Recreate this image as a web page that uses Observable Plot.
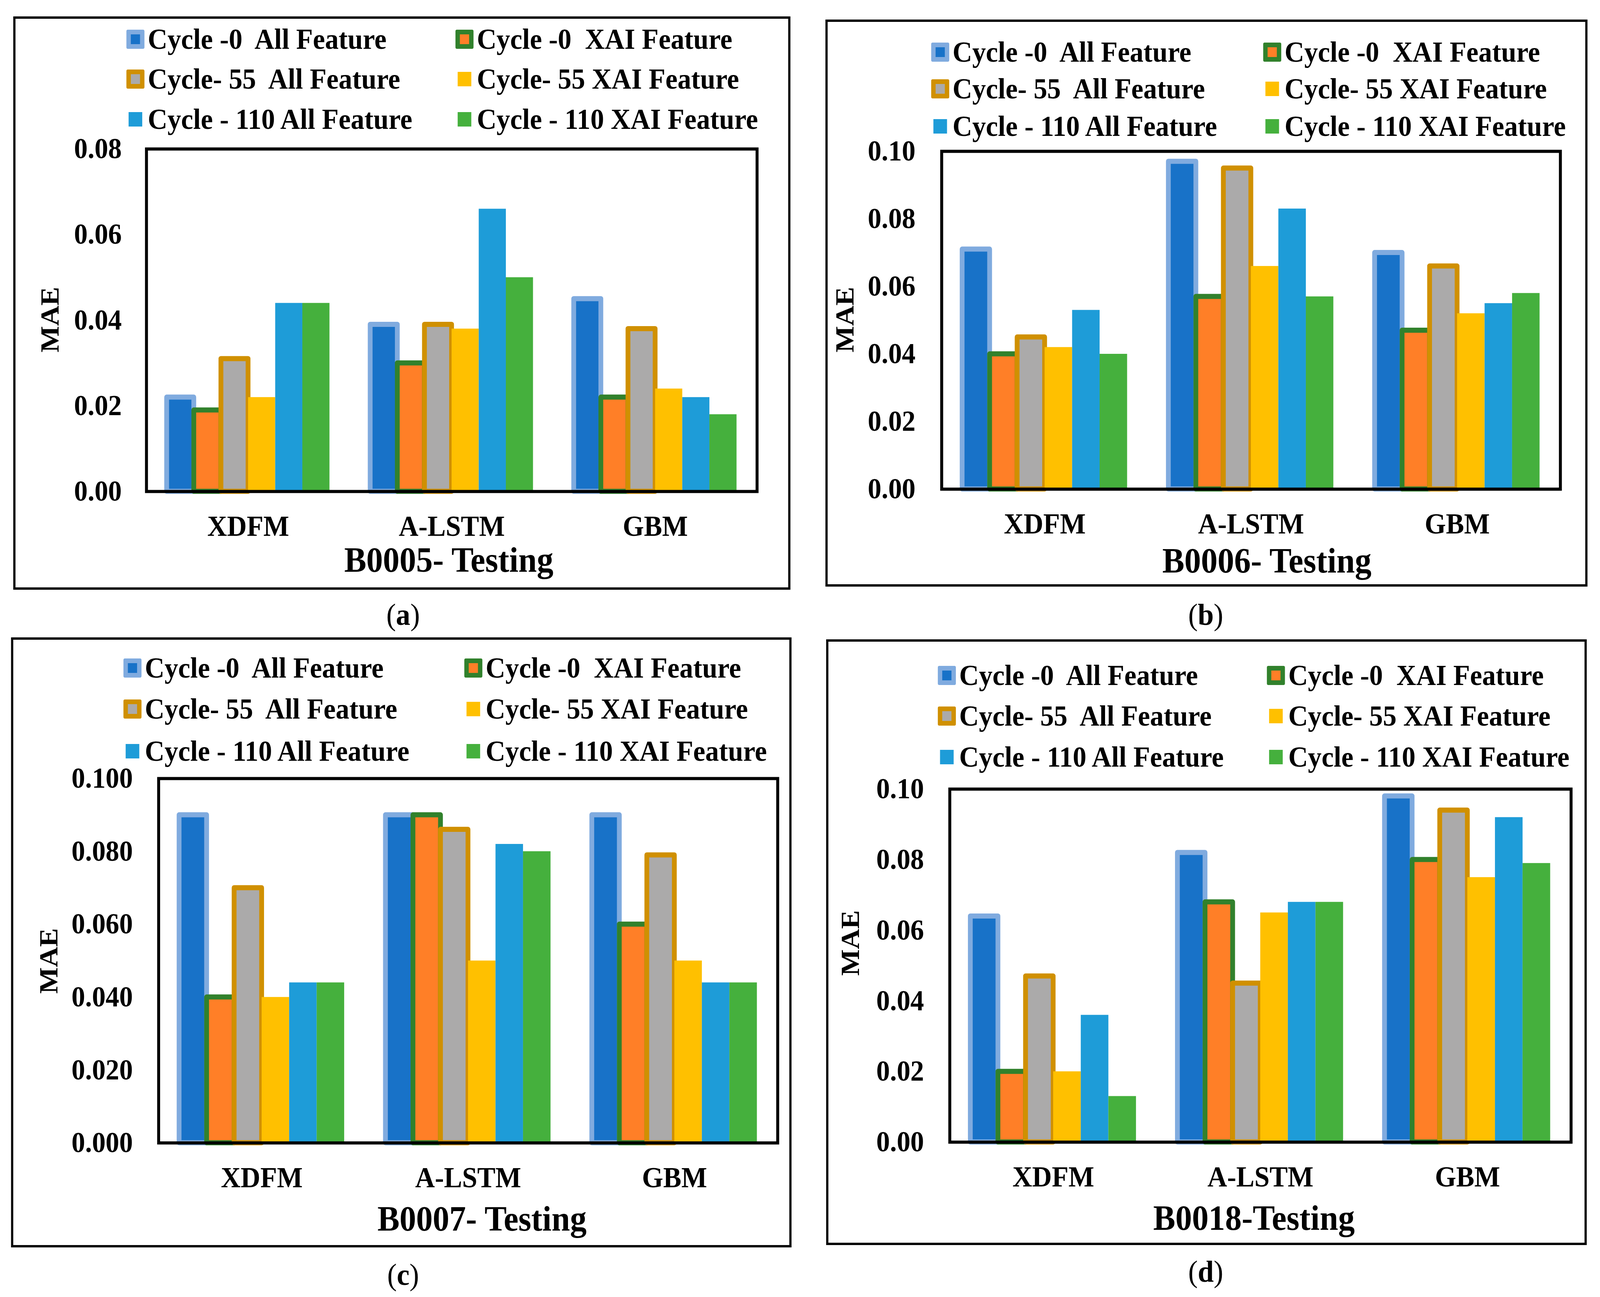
<!DOCTYPE html>
<html>
<head>
<meta charset="utf-8">
<script src="https://cdn.jsdelivr.net/npm/d3@7"></script>
<script src="https://cdn.jsdelivr.net/npm/@observablehq/plot@0.6"></script>
<style>
  html, body { margin: 0; padding: 0; background: #fff; overflow: hidden; }
  body { width: 4096px; height: 3321px; position: relative;
         font-family: "Liberation Serif", "Times New Roman", serif; color: #000; }
  #page { position: absolute; left: 0; top: 0; width: 4342px; height: 3321px; transform-origin: 0 0; }
  .box { position: absolute; border: 6px solid #000; box-sizing: border-box; }
  .abs { position: absolute; white-space: pre; line-height: 1; }
  .sw { position: absolute; box-sizing: border-box; }
  .plotwrap { position: absolute; }
</style>
</head>
<body>
<div id="page"></div>
<script>
// ---------- data ----------
const models = ["XDFM", "A-LSTM", "GBM"];
const seriesNames = [
  "Cycle -0  All Feature",
  "Cycle -0  XAI Feature",
  "Cycle- 55  All Feature",
  "Cycle- 55 XAI Feature",
  "Cycle - 110 All Feature",
  "Cycle - 110 XAI Feature"
];
// values per series, in model order [XDFM, A-LSTM, GBM]
const B0005 = [
  [0.022, 0.039, 0.045],
  [0.019, 0.030, 0.022],
  [0.031, 0.039, 0.038],
  [0.022, 0.038, 0.024],
  [0.044, 0.066, 0.022],
  [0.044, 0.050, 0.018]
];
const B0006 = [
  [0.071, 0.097, 0.070],
  [0.040, 0.057, 0.047],
  [0.045, 0.095, 0.066],
  [0.042, 0.066, 0.052],
  [0.053, 0.083, 0.055],
  [0.040, 0.057, 0.058]
];
const B0007 = [
  [0.090, 0.090, 0.090],
  [0.040, 0.090, 0.060],
  [0.070, 0.086, 0.079],
  [0.040, 0.050, 0.050],
  [0.044, 0.082, 0.044],
  [0.044, 0.080, 0.044]
];
const B0018 = [
  [0.064, 0.082, 0.098],
  [0.020, 0.068, 0.080],
  [0.047, 0.045, 0.094],
  [0.020, 0.065, 0.075],
  [0.036, 0.068, 0.092],
  [0.013, 0.068, 0.079]
];
const ticksB0005 = ["0.00", "0.02", "0.04", "0.06", "0.08"];
const ticksB0006 = ["0.00", "0.02", "0.04", "0.06", "0.08", "0.10"];
const ticksB0007 = ["0.000", "0.020", "0.040", "0.060", "0.080", "0.100"];
const ticksB0018 = ["0.00", "0.02", "0.04", "0.06", "0.08", "0.10"];
const titles = ["B0005- Testing", "B0006- Testing", "B0007- Testing", "B0018-Testing"];
const tags = ["a", "b", "c", "d"];

// ---------- styles ----------
const fills   = ["#1872C8", "#FF7F27", "#ABAAAA", "#FFC000", "#1E9CD8", "#45B03D"];
const strokes = ["#80ABDF", "#31812C", "#D09000", null, null, null];
const FONT = '"Liberation Serif", "Times New Roman", serif';

// ---------- layout ----------
const layouts = [
  {values: B0005, ticks: ticksB0005, box: [36, 42, 2145, 1510], frame: [397, 381, 2054, 1258],
   tickPad: 67, mae: [135, 818], legX: [367, 1260], legY: [100, 202, 305], title: [1218, 1434], tag: [1094, 1574]},
  {values: B0006, ticks: ticksB0006, box: [2240, 50, 4308, 1502], frame: [2555, 387, 4234, 1252],
   tickPad: 71, mae: [2293, 818], legX: [2551, 3452], legY: [133, 227, 323], title: [3438, 1436], tag: [3272, 1574]},
  {values: B0007, ticks: ticksB0007, box: [30, 1632, 2148, 3194], frame: [430, 1993, 2110, 2926],
   tickPad: 70, mae: [132, 2460], legX: [359, 1284], legY: [1710, 1815, 1923], title: [1308, 3121], tag: [1094, 3264]},
  {values: B0018, ticks: ticksB0018, box: [2242, 1637, 4306, 3188], frame: [2577, 2020, 4263, 2924],
   tickPad: 70, mae: [2307, 2414], legX: [2569, 3462], legY: [1729, 1833, 1938], title: [3403, 3119], tag: [3272, 3256]}
];

const page = document.getElementById("page");
// the photographed area is narrower than the design width: fit it horizontally
const fitX = Math.min(1, 4096 / 4342);
page.style.transform = `scale(${fitX}, 1)`;

function addDiv(cls, css, html) {
  const d = document.createElement("div");
  d.className = cls;
  Object.assign(d.style, css);
  if (html != null) d.innerHTML = html;
  page.appendChild(d);
  return d;
}

layouts.forEach((L, pi) => {
  const [bl, bt, br, bb] = L.box;
  addDiv("box", {left: bl + "px", top: bt + "px", width: (br - bl) + "px", height: (bb - bt) + "px"});

  seriesNames.forEach((name, si) => {
    const col = si % 2, row = Math.floor(si / 2);
    const cx = L.legX[col], cy = L.legY[row];
    const bordered = strokes[si] != null;
    const s = bordered ? 49 : 37;
    addDiv("sw", {
      left: (cx - s / 2) + "px", top: (cy - s / 2) + "px", width: s + "px", height: s + "px",
      background: fills[si],
      border: bordered ? `12px solid ${strokes[si]}` : "none",
      borderRadius: bordered ? "4px" : "0"
    });
    addDiv("abs", {left: (cx + 34) + "px", top: (cy - 37) + "px", fontSize: "74px", fontWeight: "bold"}, name);
  });

  const [fl, ft, fr, fb] = L.frame;
  const mL = 340, mR = 20, mT = 40, mB = 140;
  const data = [];
  L.values.forEach((arr, si) => arr.forEach((v, mi) => data.push({model: models[mi], mi, si, value: v})));
  const tickVals = L.ticks.map(Number);
  const tickLab = new Map(L.ticks.map(t => [Number(t), t]));
  const ymax = d3.max(tickVals);
  const groupPad = 0.1, barW = 0.8 / seriesNames.length;

  const marks = seriesNames.map((name, si) => Plot.rectY(data, {
    filter: d => d.si === si,
    x1: d => d.mi + groupPad + d.si * barW,
    x2: d => d.mi + groupPad + (d.si + 1) * barW,
    y: "value",
    fill: fills[si],
    stroke: strokes[si] || "none",
    strokeWidth: strokes[si] ? 13 : 0,
    strokeLinejoin: "round",
    insetLeft: 0, insetRight: 0
  }));
  marks.push(Plot.frame({stroke: "#000", strokeWidth: 8}));
  marks.push(Plot.text(["MAE"], {
    text: d => d, frameAnchor: "left", rotate: -90,
    dx: L.mae[0] - fl, dy: L.mae[1] - (ft + fb) / 2,
    fontSize: 72, fontWeight: "bold", fontFamily: FONT,
    textAnchor: "middle", lineAnchor: "middle", fill: "#000"
  }));

  const chart = Plot.plot({
    width: (fr - fl) + mL + mR,
    height: (fb - ft) + mT + mB,
    marginLeft: mL, marginRight: mR, marginTop: mT, marginBottom: mB,
    style: {fontFamily: FONT, fontSize: "74px", fontWeight: "bold", color: "#000", background: "transparent", overflow: "visible"},
    x: {domain: [0, models.length], ticks: [0.5, 1.5, 2.5], tickFormat: t => models[Math.floor(t)],
        tickSize: 0, tickPadding: 61, label: null},
    y: {domain: [0, ymax], ticks: tickVals, tickFormat: v => tickLab.get(v) ?? "",
        tickSize: 0, tickPadding: L.tickPad, label: null},
    marks
  });
  const wrap = addDiv("plotwrap", {left: (fl - mL) + "px", top: (ft - mT) + "px"});
  wrap.appendChild(chart);

  addDiv("abs", {left: (L.title[0] - 1000) + "px", width: "2000px", textAlign: "center",
                 top: (L.title[1] - 45) + "px", fontSize: "90px", fontWeight: "bold"}, titles[pi]);
  addDiv("abs", {left: (L.tag[0] - 200) + "px", width: "400px", textAlign: "center",
                 top: (L.tag[1] - 39) + "px", fontSize: "78px"}, `(<b>${tags[pi]}</b>)`);
});
</script>
</body>
</html>
